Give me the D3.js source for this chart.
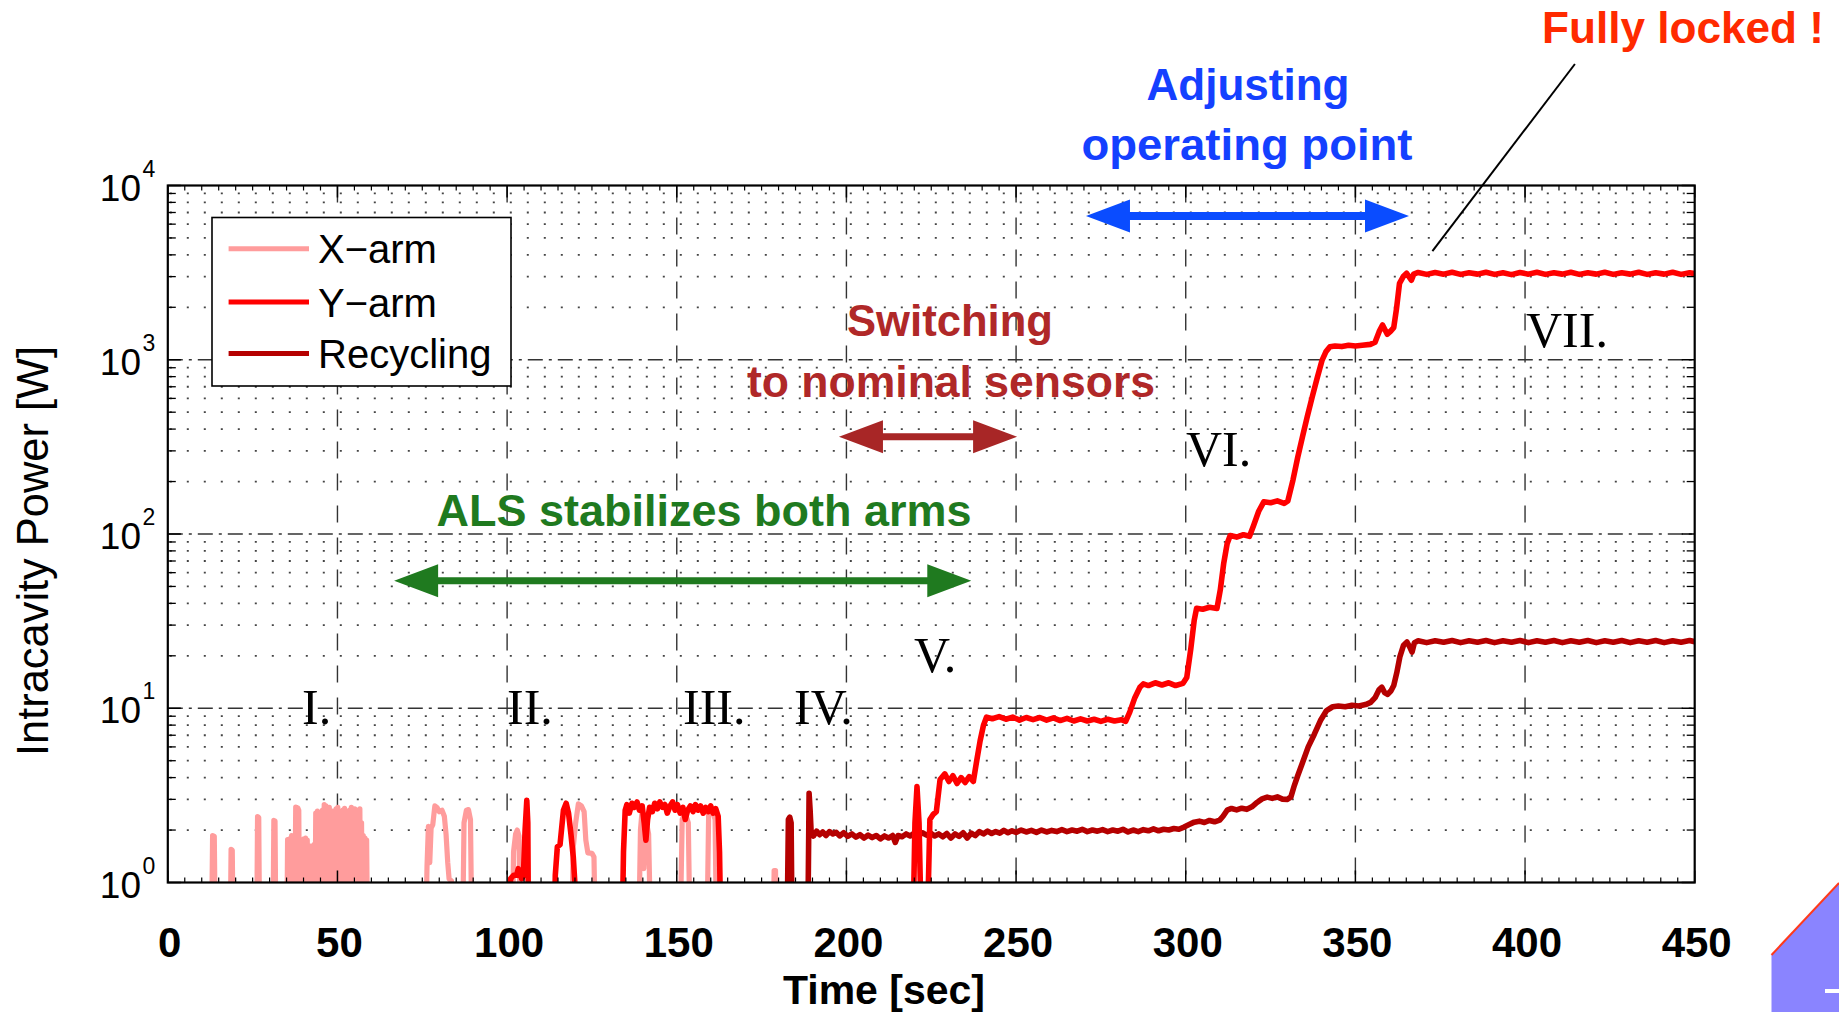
<!DOCTYPE html>
<html><head><meta charset="utf-8">
<script src="https://cdn.jsdelivr.net/npm/d3@7"></script>
<style>body{margin:0;background:#fff;} svg{display:block;}</style>
</head><body>
<svg id="c" width="1839" height="1012"></svg>
<script>
// ---------------- data ----------------
const xTickValues = [0,50,100,150,200,250,300,350,400,450];
const yTickValues = [1,10,100,1000,10000];
const yTickExponents = ["0","1","2","3","4"];
const seriesNames = ["X\u2212arm","Y\u2212arm","Recycling"];
const romanLabels = ["I.","II.","III.","IV.","V.","VI.","VII."];

// [time (s), power (W)]; 0.5 = below the axis (unlocked)
const xArm = [
[12.9,0.5],[13.2,1.86],[13.7,1.84],[14.0,0.5],
[18.4,0.5],[18.65,1.55],[19.0,1.53],[19.25,0.5],
[26.2,0.5],[26.45,2.39],[26.8,2.36],[27.05,0.5],
[31.0,0.5],[31.25,2.27],[31.6,2.25],[31.85,0.5],
[35.1,0.5],[35.3,1.76],[35.6,0.5],[35.9,1.78],[36.2,0.5],[36.5,1.86],[36.8,0.5],[37.1,1.86],[37.4,0.6],[37.7,2.71],[38.0,0.6],[38.3,2.68],[38.6,2.6],[38.85,0.5],
[39.9,0.5],[40.1,1.78],[40.35,0.5],[40.6,1.8],[40.85,0.5],[41.1,1.75],[41.35,0.5],[41.6,1.6],[41.85,0.5],[42.1,1.62],[42.35,0.5],[42.6,1.58],[42.85,0.5],[43.1,1.65],[43.35,0.5],
[43.6,2.5],[43.85,0.5],[44.1,2.57],[44.35,0.5],[44.6,2.45],[44.85,0.5],[45.1,2.48],[45.35,0.5],[45.6,2.6],[45.85,0.5],[46.1,2.8],[46.35,0.5],[46.6,2.75],[46.85,0.5],
[47.1,2.6],[47.35,0.5],[47.6,2.7],[47.85,0.5],[48.1,2.55],[48.35,0.5],[48.6,2.57],[48.85,0.5],[49.1,2.4],[49.35,0.5],[49.6,2.65],[49.85,0.5],[50.1,2.7],[50.35,0.5],
[50.6,2.5],[50.85,0.5],[51.1,2.45],[51.35,0.5],[51.6,2.6],[51.85,0.5],[52.1,2.66],[52.35,0.5],[52.6,2.55],[52.85,0.5],[53.1,2.57],[53.35,0.5],[53.6,2.6],[53.85,0.5],
[54.1,2.7],[54.35,0.5],[54.6,2.55],[54.85,0.5],[55.1,2.65],[55.35,0.5],[55.6,2.6],[55.85,0.5],[56.1,2.5],[56.35,0.5],[56.6,2.65],[56.85,0.5],[57.1,2.2],[57.35,0.5],
[57.6,1.86],[57.85,0.5],[58.1,1.8],[58.35,0.5],[58.6,1.75],[58.85,0.5],
[76.0,0.5],[76.4,1.25],[76.8,2.1],[77.2,1.3],[77.6,2.05],[78.1,2.15],[78.7,2.75],[79.3,2.7],[80.0,2.55],[80.8,2.6],[81.5,2.4],[82.0,1.9],[82.5,1.3],[82.9,1.05],[83.6,1.02],[84.0,0.5],
[86.9,0.5],[87.3,2.2],[88.0,2.6],[88.6,2.62],[89.2,2.3],[89.6,0.5],
[101.6,0.5],[101.9,1.5],[102.5,1.9],[103.0,2.0],[103.5,1.85],[103.9,0.5],
[119.0,0.5],[119.5,1.6],[120.2,2.2],[121.0,2.83],[121.9,2.75],[122.7,2.55],[123.2,1.75],[123.8,1.48],[125.0,1.47],[125.6,1.4],[126.0,0.5],
[138.8,0.5],[139.3,2.0],[139.8,2.6],[140.3,1.2],[140.9,2.3],[141.7,1.9],[142.3,0.5],
[151.0,0.5],[151.6,2.3],[152.5,2.5],[153.4,2.2],[153.9,0.5],
[158.9,0.5],[159.4,2.5],[160.5,2.6],[161.3,2.3],[161.7,0.5],
[178.4,0.5],[178.7,1.17],[179.1,1.17],[179.3,0.5]
];

const yArm = [
[100.7,0.5],[101.0,1.05],[101.9,1.1],[102.8,1.1],[103.3,1.2],[104.3,1.05],[104.8,1.1],[105.3,2.0],[105.8,2.96],[106.1,2.2],[106.3,0.5],
[113.9,0.5],[114.2,1.1],[114.8,1.6],[115.6,1.65],[116.6,2.6],[117.4,2.85],[118.1,2.5],[118.8,1.9],[119.5,1.4],[120.1,0.9],[120.4,0.5],
[133.9,0.5],[134.3,1.5],[134.8,2.6],[135.3,2.8],[136.0,2.5],[136.8,2.85],[137.5,2.7],[138.3,2.9],[139.0,2.6],[139.8,2.75],[140.4,2.2],[140.9,1.75],[141.4,2.3],
[142.0,2.7],[142.8,2.55],[143.5,2.85],[144.3,2.65],[145.0,2.9],[145.8,2.7],[146.5,2.8],[147.2,2.5],[148.0,2.75],[148.8,2.9],[149.5,2.6],[150.2,2.8],[151.0,2.5],
[151.8,2.7],[152.5,2.3],[153.2,2.6],[154.0,2.75],[154.8,2.55],[155.5,2.8],[156.3,2.6],[157.0,2.75],[157.8,2.5],[158.5,2.7],[159.3,2.55],[160.0,2.75],[160.7,2.5],
[161.5,2.65],[162.2,2.4],[162.6,1.5],[163.0,0.5],
[219.6,0.5],[220.2,2.2],[220.8,3.55],[221.4,2.2],[222.1,0.5],
[223.8,0.5],[224.6,2.3],[225.5,2.45],[226.5,2.55],[227.6,3.9],[229.0,4.2],[230.2,3.8],[231.4,4.1],[232.6,3.7],[233.8,4.0],[235.0,3.75],[236.2,4.05],[237.4,3.8],
[238.4,5.0],[239.4,6.5],[240.4,8.0],[241.3,8.9],[243,8.7],[245,8.95],[247,8.65],[249,8.9],[251,8.55],[253,8.85],[255,8.6],[257,8.85],[259,8.55],[261,8.8],
[263,8.5],[265,8.75],[267,8.45],[269,8.7],[271,8.45],[273,8.65],[275,8.4],[277,8.65],[279,8.45],[281,8.6],[282.3,8.4],
[283.5,9.5],[285,11.5],[286.5,13.2],[287.5,13.8],[289,13.5],[291,14.0],[293,13.6],[295,14.0],[297,13.5],[299.2,13.9],
[300.3,15],[301.5,22],[302.5,32],[303.2,37.5],[305,37.0],[307,38.0],[309.2,37.4],
[310.2,48],[311.2,68],[312.2,88],[313.1,98],[315,96],[317,99],[318.8,97],
[320,112],[321.5,135],[323,153],[325,151],[327,155],[329,150],[330.1,155],
[331.6,204],[333,275],[334.4,361],[335.8,470],[337.3,614],[338.7,780],[340.2,996],[341.3,1110],[342.5,1188],
[344,1200],[346,1190],[348,1210],[350,1198],[352,1212],[354.4,1225],[355.8,1260],[357,1450],[358,1583],[359.4,1400],[360.4,1460],[361.3,1530],
[362.1,1950],[363,2746],[364.1,3000],[365.1,3136],[365.8,3000],[366.5,2860],[367.2,3100],[368.5,3170],
[371,3090],[373.5,3170],[376,3100],[378.5,3180],[381,3090],[383.5,3160],[386,3100],[388.5,3180],[391,3090],[393.5,3160],[396,3080],[398.5,3170],
[401,3100],[403.5,3180],[406,3090],[408.5,3160],[411,3100],[413.5,3180],[416,3090],[418.5,3160],[421,3100],[423.5,3180],[426,3090],[428.5,3160],
[431,3100],[433.5,3180],[436,3090],[438.5,3160],[441,3100],[443.5,3180],[446,3090],[448.5,3160],[450,3120]
];

const recycling = [
[181.8,0.5],[182.5,0.5],[182.9,2.3],[183.3,2.37],[183.7,2.2],[184.0,0.5],
[188.6,0.5],[189.0,3.25],[189.3,2.6],[189.6,1.95],[190.3,1.85],[191.2,1.97],[192.1,1.88],[193.0,1.95],[194.0,1.86],[195.0,1.96],[196.0,1.9],[197.0,1.94],
[198.0,1.85],[199.2,1.93],[200.4,1.84],[201.6,1.9],[202.8,1.82],[204.0,1.88],[205.2,1.8],[206.4,1.87],[207.6,1.81],[208.8,1.86],[210.0,1.78],[211.2,1.85],
[212.4,1.8],[213.6,1.86],[214.4,1.7],[215.2,1.86],[216.4,1.83],[217.6,1.9],[218.8,1.85],[220.0,1.92],[221.2,1.86],[222.4,1.93],[223.6,1.87],[224.8,1.92],
[226.0,1.85],[227.2,1.9],[228.4,1.83],[229.6,1.91],[230.8,1.8],[232.0,1.9],[233.2,1.84],[234.4,1.93],[235.6,1.8],[236.8,1.92],[238.0,1.86],[239.2,1.96],
[240.4,1.9],[241.6,1.97],[242.8,1.91],[244.0,1.96],[245.2,1.92],[246.4,1.99],[247.6,1.93],[248.8,1.98],[250.0,1.94],[251.5,2.0],[253.0,1.95],[254.5,1.99],
[256.0,1.94],[257.5,2.0],[259.0,1.95],[260.5,1.99],[262.0,1.96],[263.5,2.01],[265.0,1.96],[266.5,2.0],[268.0,1.97],[269.5,2.02],[271.0,1.96],[272.5,2.0],
[274.0,1.97],[275.5,2.01],[277.0,1.96],[278.5,2.0],[280.0,1.97],[281.5,2.02],[283.0,1.95],[284.5,2.0],[286.0,1.96],[287.5,2.01],[289.0,1.98],[290.5,2.03],
[292.0,1.98],[293.5,2.02],[295.0,2.0],[296.5,2.04],[298.0,2.02],[299.5,2.08],[301.0,2.15],[302.5,2.22],[304.0,2.25],[305.5,2.21],[307.0,2.27],[308.5,2.23],
[310.0,2.28],[311.0,2.4],[312.2,2.6],[313.5,2.66],[315.0,2.61],[316.5,2.67],[318.0,2.63],[319.5,2.72],[321.0,2.88],[322.5,3.02],[324.0,3.09],[325.5,3.04],
[327.0,3.1],[328.5,3.01],[330.0,3.0],[331.0,3.1],[332.0,3.6],[333.0,4.1],[334.3,4.8],[336.1,6.0],[337.9,7.1],[339.7,8.5],[341.5,9.7],[343.3,10.2],
[345,10.3],[347,10.2],[349,10.4],[351,10.3],[353,10.5],[354.5,10.8],[355.8,11.5],[357,12.8],[357.8,13.2],[358.6,12.3],[359.5,12.0],[360.5,12.6],
[361.3,13.5],[362.2,16],[363.1,19.7],[364.2,23],[365.2,24],[366.0,22.5],[366.7,21],[367.4,23.8],[368.5,24.4],
[371,23.8],[373.5,24.4],[376,23.9],[378.5,24.5],[381,23.8],[383.5,24.4],[386,23.9],[388.5,24.5],[391,23.8],[393.5,24.4],[396,23.9],[398.5,24.5],
[401,23.8],[403.5,24.4],[406,23.9],[408.5,24.5],[411,23.8],[413.5,24.4],[416,23.9],[418.5,24.5],[421,23.8],[423.5,24.4],[426,23.9],[428.5,24.5],
[431,23.8],[433.5,24.4],[436,23.9],[438.5,24.5],[441,23.8],[443.5,24.4],[446,23.9],[448.5,24.5],[450,24.1]
];

// ---------------- layout / style ----------------
const colX = "#ff9c9c", colY = "#ff0000", colR = "#b50000";
const PL = 167.8, PR = 1694.7, PT = 185.5, PB = 882.5;
const sans = "'Liberation Sans', Arial, Helvetica, sans-serif";
const serif = "'Liberation Serif', 'Times New Roman', serif";

const svg = d3.select("#c");
const x = d3.scaleLinear().domain([0,450]).range([PL,PR]);
const y = d3.scaleLog().domain([1,10000]).range([PB,PT]);

svg.append("rect").attr("width",1839).attr("height",1012).attr("fill","#fff");

// ---------------- grid ----------------
const gGrid = svg.append("g");
const minorY = [];
for (let d = 0; d < 4; d++) for (let m = 2; m <= 9; m++) minorY.push(m*Math.pow(10,d));
gGrid.selectAll(".mi").data(minorY).enter().append("line")
  .attr("x1",PL+2).attr("x2",PR).attr("y1",d=>y(d)).attr("y2",d=>y(d))
  .attr("stroke","#444").attr("stroke-width",1.8).attr("stroke-dasharray","2,15");
gGrid.selectAll(".mjy").data([10,100,1000]).enter().append("line")
  .attr("x1",PL).attr("x2",PR).attr("y1",d=>y(d)).attr("y2",d=>y(d))
  .attr("stroke","#333").attr("stroke-width",1.4).attr("stroke-dasharray","15,6,3,6");
gGrid.selectAll(".mjx").data(xTickValues.slice(1,-1)).enter().append("line")
  .attr("x1",d=>x(d)).attr("x2",d=>x(d)).attr("y1",PT).attr("y2",PB)
  .attr("stroke","#333").attr("stroke-width",1.4).attr("stroke-dasharray","17,15");

// ---------------- data lines ----------------
svg.append("clipPath").attr("id","clip").append("rect")
  .attr("x",PL).attr("y",PT).attr("width",PR-PL).attr("height",PB-PT);
const line = d3.line().x(d=>x(d[0])).y(d=>y(d[1]));
const gData = svg.append("g").attr("clip-path","url(#clip)");
[[xArm,colX,5.2],[recycling,colR,5.6],[yArm,colY,5.6]].forEach(([data,c,w])=>{
  gData.append("path").datum(data).attr("d",line).attr("fill","none")
    .attr("stroke",c).attr("stroke-width",w)
    .attr("stroke-linejoin","round").attr("stroke-linecap","round");
});

// ---------------- axes box & ticks ----------------
const gAx = svg.append("g").attr("stroke","#000");
const minorX = d3.range(5,450,5).filter(v=>v%50!==0);
xTickValues.forEach(v=>{
  gAx.append("line").attr("x1",x(v)).attr("x2",x(v)).attr("y1",PB).attr("y2",PB-12).attr("stroke-width",1.5);
  gAx.append("line").attr("x1",x(v)).attr("x2",x(v)).attr("y1",PT).attr("y2",PT+12).attr("stroke-width",1.5);
});
minorX.forEach(v=>{
  gAx.append("line").attr("x1",x(v)).attr("x2",x(v)).attr("y1",PB).attr("y2",PB-5).attr("stroke-width",1.2);
  gAx.append("line").attr("x1",x(v)).attr("x2",x(v)).attr("y1",PT).attr("y2",PT+5).attr("stroke-width",1.2);
});
yTickValues.forEach(v=>{
  gAx.append("line").attr("x1",PL).attr("x2",PL+13).attr("y1",y(v)).attr("y2",y(v)).attr("stroke-width",1.5);
  gAx.append("line").attr("x1",PR).attr("x2",PR-13).attr("y1",y(v)).attr("y2",y(v)).attr("stroke-width",1.5);
});
minorY.forEach(v=>{
  gAx.append("line").attr("x1",PL).attr("x2",PL+8).attr("y1",y(v)).attr("y2",y(v)).attr("stroke-width",1.3);
  gAx.append("line").attr("x1",PR).attr("x2",PR-8).attr("y1",y(v)).attr("y2",y(v)).attr("stroke-width",1.3);
});
svg.append("rect").attr("x",PL).attr("y",PT).attr("width",PR-PL).attr("height",PB-PT)
  .attr("fill","none").attr("stroke","#000").attr("stroke-width",2.2);

// tick labels
const gT = svg.append("g").attr("font-family",sans).attr("fill","#000");
xTickValues.forEach(v=>{
  gT.append("text").attr("x",x(v)+2).attr("y",957).attr("text-anchor","middle")
    .attr("font-size",42).attr("font-weight","bold").text(v);
});
yTickValues.forEach((v,i)=>{
  gT.append("text").attr("x",141).attr("y",y(v)+15).attr("text-anchor","end")
    .attr("font-size",37).text("10");
  gT.append("text").attr("x",142.5).attr("y",y(v)-9).attr("text-anchor","start")
    .attr("font-size",23).text(yTickExponents[i]);
});
// axis titles
gT.append("text").attr("x",884).attr("y",1004).attr("text-anchor","middle")
  .attr("font-size",41).attr("font-weight","bold").text("Time [sec]");
gT.append("text").attr("transform","translate(48,551) rotate(-90)").attr("text-anchor","middle")
  .attr("font-size",44).attr("textLength",410).attr("lengthAdjust","spacingAndGlyphs").text("Intracavity Power [W]");

// ---------------- legend ----------------
const gL = svg.append("g");
gL.append("rect").attr("x",212).attr("y",217.5).attr("width",299).attr("height",168.5)
  .attr("fill","#fff").attr("stroke","#000").attr("stroke-width",1.6);
const legRows = [248.7,302,353.5];
[colX,colY,colR].forEach((c,i)=>{
  gL.append("line").attr("x1",228.6).attr("x2",309).attr("y1",legRows[i]).attr("y2",legRows[i])
    .attr("stroke",c).attr("stroke-width",5);
  gL.append("text").attr("x",318).attr("y",legRows[i]+14.5).attr("font-family",sans)
    .attr("font-size",40).attr("fill","#000").text(seriesNames[i]);
});

// ---------------- annotations ----------------
// double-headed arrows in data units: [t1, t2, power]
const arrowGreen = [66.7, 236.8, 54];
const arrowRed   = [197.8, 250.3, 362];
const arrowBlue  = [270.6, 365.8, 6683];
function dArrow(a, color, shaft){
  const x1 = x(a[0]), x2 = x(a[1]), yy = y(a[2]);
  const hl = 44, hw = 16.5, s = shaft/2;
  const p = [[x1,yy],[x1+hl,yy-hw],[x1+hl,yy-s],[x2-hl,yy-s],[x2-hl,yy-hw],[x2,yy],
             [x2-hl,yy+hw],[x2-hl,yy+s],[x1+hl,yy+s],[x1+hl,yy+hw]];
  svg.append("path").attr("d","M"+p.map(q=>q.join(",")).join("L")+"Z").attr("fill",color);
}
dArrow(arrowGreen,"#1f7a1f",7);
dArrow(arrowRed,"#a82626",7);
dArrow(arrowBlue,"#0a4cff",8);

// leader line for "Fully locked !" (data units)
const leader = [[414.7,49800],[372.7,4207]];
svg.append("line").attr("x1",x(leader[0][0])).attr("y1",y(leader[0][1]))
  .attr("x2",x(leader[1][0])).attr("y2",y(leader[1][1])).attr("stroke","#000").attr("stroke-width",2);

const notes = [
  {t:"Adjusting", x:1248, y:100, w:203, c:"#1440ff", a:"middle"},
  {t:"operating point", x:1247, y:160, w:331, c:"#1440ff", a:"middle"},
  {t:"Switching", x:950, y:335.5, w:206, c:"#b02828", a:"middle"},
  {t:"to nominal sensors", x:951, y:396.5, w:408, c:"#b02828", a:"middle"},
  {t:"ALS stabilizes both arms", x:704, y:526, w:535, c:"#1f7a1f", a:"middle"},
  {t:"Fully locked !", x:1542, y:43, w:282, c:"#ff2a00", a:"start"}
];
notes.forEach(n=>{
  svg.append("text").attr("x",n.x).attr("y",n.y).attr("text-anchor",n.a)
    .attr("font-family",sans).attr("font-weight","bold").attr("font-size",44)
    .attr("fill",n.c).attr("textLength",n.w).attr("lengthAdjust","spacingAndGlyphs").text(n.t);
});

// roman numerals
const romanPos = [[302,724],[507,724],[683,724],[794,724],[914,672],[1186,466],[1526,347]];
romanLabels.forEach((r,i)=>{
  svg.append("text").attr("x",romanPos[i][0]).attr("y",romanPos[i][1])
    .attr("font-family",serif).attr("font-size",50).attr("fill","#000").text(r);
});

// decorative corner shape (slide artefact)
svg.append("path").attr("d","M1839,883 L1771.5,955 L1771.5,1012 L1839,1012 Z").attr("fill","#8a84ff");
svg.append("line").attr("x1",1771.5).attr("y1",955).attr("x2",1839).attr("y2",883)
  .attr("stroke","#ff3a1a").attr("stroke-width",2);
svg.append("rect").attr("x",1825).attr("y",989).attr("width",14).attr("height",4).attr("fill","#fff");
</script>
</body></html>
